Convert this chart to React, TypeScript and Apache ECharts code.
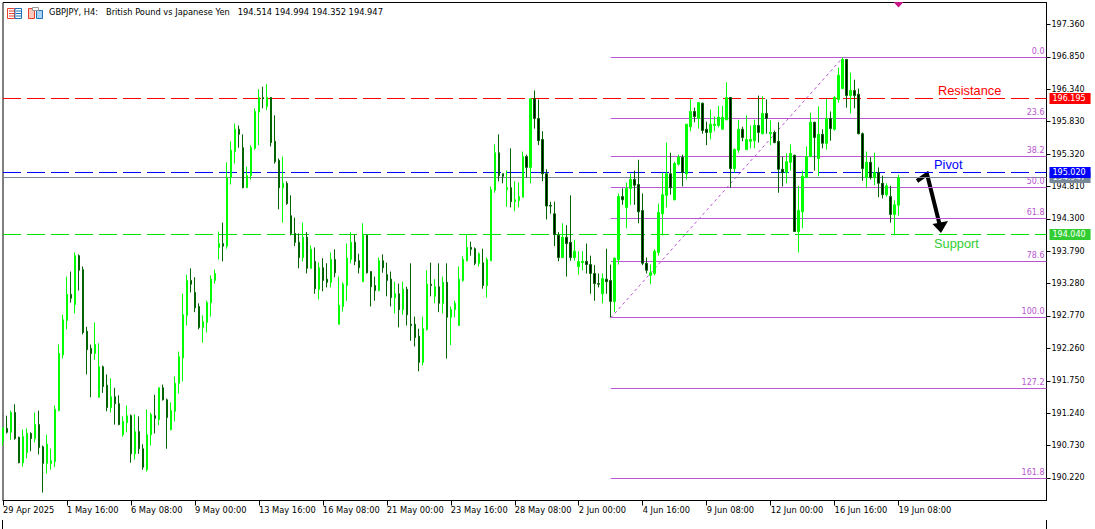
import React, { useEffect, useRef } from "react";
import * as echarts from "echarts";

const chartTitle = "GBPJPY, H4:   British Pound vs Japanese Yen   194.514 194.994 194.352 194.947";

const timeLabels = ["29 Apr 2025","1 May 16:00","6 May 08:00","9 May 00:00","13 May 16:00","16 May 08:00","21 May 00:00","23 May 16:00","28 May 08:00","2 Jun 00:00","4 Jun 16:00","9 Jun 08:00","12 Jun 00:00","16 Jun 16:00","19 Jun 08:00"];
const priceTicks = [197.36,196.85,196.34,195.83,195.32,194.81,194.3,193.79,193.28,192.77,192.26,191.75,191.24,190.73,190.22];

const opens = [190.81,191.00,190.94,191.25,190.86,190.46,190.62,190.92,190.84,191.06,
190.71,190.45,190.45,190.48,191.28,192.16,192.70,193.11,192.95,193.72,
193.50,192.53,192.26,192.18,191.49,191.97,191.68,191.33,191.50,191.39,
190.90,191.09,191.20,190.60,190.95,190.68,190.35,190.90,191.20,191.14,
191.64,191.45,190.98,191.27,191.71,192.11,192.78,193.33,193.14,192.92,
192.59,192.67,192.98,193.33,193.85,193.91,193.87,194.95,195.36,195.71,
195.42,194.79,194.98,195.41,195.98,196.21,196.07,196.21,195.52,195.22,
194.79,194.86,194.35,194.07,193.93,193.69,194.01,193.52,193.63,193.19,
193.53,193.35,193.30,193.66,192.64,192.92,193.25,193.66,193.93,193.64,
193.31,194.04,193.47,193.25,193.17,193.64,193.42,193.35,193.06,193.12,
192.87,193.19,192.64,192.64,192.45,192.04,192.56,193.27,193.08,193.23,
192.97,193.30,192.75,192.87,192.62,193.33,193.64,193.85,193.83,193.60,
193.61,193.25,193.64,194.75,195.34,195.01,194.76,194.79,194.57,194.59,
194.64,195.28,195.11,196.19,195.88,195.55,195.01,194.51,194.38,194.04,
193.69,194.01,193.93,193.69,193.55,193.61,193.63,193.58,193.44,193.28,
193.12,193.35,193.33,193.00,193.66,194.65,194.48,194.78,194.92,194.84,
194.43,193.60,193.41,193.44,193.77,194.38,194.67,195.01,194.60,195.16,
195.27,195.01,195.75,195.99,195.88,196.12,195.71,195.66,195.77,195.77,
195.71,195.86,196.21,195.09,195.38,195.71,195.39,195.52,195.53,195.77,
195.64,195.96,195.64,195.66,195.52,195.08,195.03,195.19,195.30,194.10,
194.41,194.95,195.28,195.82,195.25,195.63,195.49,195.88,195.71,196.18,
196.35,196.81,196.24,196.32,196.26,195.64,194.95,195.19,194.95,195.03,
194.86,194.68,194.65,194.37,194.514];

const highs = [191.01,191.20,191.28,191.38,190.87,190.98,191.00,190.94,191.25,191.28,
190.73,190.90,190.68,191.36,192.32,192.79,193.39,193.47,193.77,193.74,
193.55,192.60,192.32,192.67,192.34,191.99,191.85,191.79,191.64,191.52,
191.19,191.36,191.22,191.22,191.19,190.75,191.30,191.25,191.53,191.64,
191.69,191.47,191.41,191.82,192.21,193.12,193.42,193.52,193.38,192.97,
192.78,193.01,193.41,193.50,194.10,194.24,195.19,195.52,195.80,195.77,
195.63,195.12,195.46,196.04,196.34,196.38,196.42,196.21,195.93,195.25,
195.28,194.89,194.67,194.32,194.07,194.24,194.09,193.88,193.85,193.61,
193.68,193.60,193.77,193.82,193.39,193.30,193.91,194.09,194.05,193.75,
194.23,194.05,193.47,193.39,193.69,193.74,193.61,193.47,193.31,193.28,
193.31,193.23,193.60,192.76,192.57,192.76,193.49,193.61,193.35,193.60,
193.39,193.60,192.92,193.01,193.55,193.71,194.05,193.94,193.85,193.77,
193.83,193.69,194.81,195.47,195.63,195.01,195.06,195.41,194.89,194.87,
195.36,195.31,196.19,196.32,196.18,195.68,195.08,194.57,194.57,194.09,
194.23,194.20,194.67,193.97,193.79,193.79,193.91,193.72,193.57,193.44,
193.44,193.83,193.58,193.69,194.70,194.78,194.87,195.01,195.06,195.23,
194.70,193.69,193.58,193.82,194.54,195.03,195.50,195.34,195.20,195.31,
195.31,195.79,196.18,196.05,196.13,196.13,195.83,196.02,195.91,196.08,
196.08,196.45,196.21,195.41,195.86,195.75,195.93,195.77,195.86,196.24,
196.23,196.18,195.85,195.69,195.82,195.28,195.33,195.47,195.31,194.82,
195.06,195.44,195.97,195.83,196.07,195.71,196.19,195.99,196.23,196.68,
196.84,196.81,196.60,196.49,196.35,195.66,195.36,195.27,195.34,195.11,
194.98,194.86,194.82,194.59,194.994];

const lows = [190.73,190.92,190.82,190.82,190.45,190.40,190.53,190.64,190.78,190.59,
189.99,190.29,190.35,190.39,191.27,192.10,192.56,192.98,192.81,193.17,
192.48,191.85,191.49,192.08,191.49,191.56,191.27,191.25,191.06,191.05,
190.87,190.94,190.46,190.51,190.60,190.35,190.32,190.73,190.92,191.05,
191.44,190.68,190.97,191.11,191.55,191.74,192.62,193.14,192.83,192.56,
192.35,192.51,192.76,193.28,193.66,193.63,193.83,194.84,195.17,195.42,
194.78,194.79,194.92,195.39,195.46,196.04,196.01,195.44,195.17,194.45,
194.24,194.52,194.04,193.87,193.52,193.63,193.44,193.52,193.12,193.03,
193.16,193.22,193.22,193.38,192.64,192.84,193.01,193.60,193.57,193.44,
193.31,193.44,192.92,193.01,193.16,193.45,193.08,192.92,192.81,192.59,
192.79,192.62,192.38,192.29,191.90,191.99,192.54,193.08,192.97,192.83,
192.81,192.10,192.31,192.75,192.62,193.31,193.63,193.72,193.57,193.55,
193.20,193.06,193.64,194.71,194.89,194.86,194.49,194.48,194.42,194.48,
194.64,194.95,194.86,195.72,195.46,194.89,194.29,194.38,193.87,193.63,
193.69,193.39,193.64,193.64,193.42,193.49,193.44,193.12,193.01,193.22,
192.97,193.12,192.75,192.83,193.58,194.52,194.15,194.52,194.52,194.23,
193.57,193.44,193.27,193.41,193.72,194.04,194.48,194.68,194.59,195.14,
194.81,194.92,195.68,195.82,195.72,195.64,195.46,195.55,195.68,195.74,
195.71,195.85,194.79,195.03,195.34,195.52,195.39,195.41,195.41,195.50,
195.63,195.64,195.46,195.49,194.71,194.81,194.86,195.06,194.10,193.77,
194.15,194.95,195.27,195.06,194.97,195.41,195.39,195.53,195.69,196.13,
196.35,196.05,195.96,196.04,195.63,194.90,194.79,194.92,194.83,194.64,
194.62,194.65,194.24,194.04,194.352];

const closes = [191.01,190.94,191.25,190.84,190.46,190.87,190.92,190.84,191.06,190.70,
190.45,190.75,190.49,191.30,192.18,192.71,193.11,193.05,193.72,193.49,
192.51,192.24,192.18,192.32,191.97,191.66,191.33,191.50,191.39,191.06,
191.11,191.20,190.60,190.95,190.68,190.39,190.90,191.22,191.16,191.64,
191.45,191.17,191.28,191.71,192.13,192.79,193.33,193.27,192.90,192.59,
192.68,192.98,193.35,193.44,193.91,193.87,194.95,195.38,195.71,195.63,
194.79,194.98,195.42,195.99,196.21,196.19,196.21,195.50,195.20,194.79,
194.86,194.54,194.07,193.93,193.69,194.01,193.52,193.82,193.20,193.53,
193.33,193.30,193.66,193.45,192.94,193.27,193.68,193.93,193.63,193.53,
194.04,193.45,193.23,193.17,193.64,193.53,193.33,193.06,193.12,192.87,
193.19,192.79,192.62,192.43,192.04,192.57,193.27,193.25,193.23,192.97,
193.30,192.75,192.87,192.97,193.35,193.66,193.85,193.82,193.60,193.75,
193.25,193.66,194.76,195.34,194.98,194.97,194.79,194.57,194.60,194.65,
195.28,195.11,196.19,195.88,195.53,195.01,194.50,194.50,194.05,193.69,
194.01,193.91,193.69,193.79,193.63,193.63,193.58,193.44,193.28,193.27,
193.36,193.31,193.00,193.68,194.65,194.60,194.78,194.92,194.83,194.41,
193.60,193.49,193.45,193.79,194.40,194.68,195.01,194.79,195.17,195.27,
195.03,195.79,195.99,195.91,196.13,195.69,195.66,195.79,195.79,195.90,
195.90,196.21,195.09,195.39,195.71,195.58,195.55,195.55,195.77,195.66,
195.96,195.88,195.66,195.50,195.08,195.03,195.20,195.33,194.10,194.43,
194.97,195.28,195.82,195.58,195.63,195.49,195.88,195.72,196.21,196.56,
196.81,196.24,196.32,196.24,195.64,195.09,195.19,194.95,195.03,194.86,
194.68,194.82,194.37,194.52,194.947];

const fibLevels = ["0.0","23.6","38.2","50.0","61.8","78.6","100.0","127.2","161.8"];
const fibPrices = [196.836,195.871,195.274,194.79,194.3,193.622,192.74,191.62,190.21];

const resistancePrice = 196.195;
const pivotPrice = 195.02;
const supportPrice = 194.04;
const lastPrice = 194.947;

const FONT = "'DejaVu Sans', sans-serif";
const PURPLE = "#BA55D3";
const SLOTS = 262;
const FIB_START = 152;
const FIB_PEAK = 210;
const Y_MIN = 189.865;
const Y_MAX = 197.706;
const GRID_TOP = 2.5;
const GRID_H = 498;

// Lines sit on a whole pixel row, as the terminal draws them.
const snap = (p: number) => {
  const scale = GRID_H / (Y_MAX - Y_MIN);
  const row = Math.floor(2 + (Y_MAX - p) * scale + 0.035);
  return Y_MAX - (row + 0.5 - GRID_TOP) / scale;
};

const levelLine = (value: number, color: string, bg: string, dashed: boolean) => ({
  yAxis: snap(value),
  lineStyle: { color, width: 1, type: dashed ? [18, 6] : "solid", opacity: 1 },
  label: {
    show: true,
    position: "end",
    distance: 3,
    formatter: value.toFixed(3),
    color: "#fff",
    backgroundColor: bg,
    padding: [2, 5, 1, 3],
    fontFamily: FONT,
    fontSize: 8,
  },
});

export default function App() {
  const ref = useRef<HTMLDivElement>(null);
  useEffect(() => {
    document.body.style.margin = "0";
    const chart = echarts.init(ref.current!, undefined, { renderer: "svg" });
    const candles = opens.map((o, i) => [o, closes[i], lows[i], highs[i]]);
    const fibLines = fibPrices.map((p, i) => [
      {
        coord: [FIB_START, snap(p)],
        lineStyle: { color: PURPLE, width: 1, type: "solid" },
        label: {
          show: true,
          position: "insideEndTop",
          distance: 2,
          formatter: fibLevels[i],
          color: PURPLE,
          fontFamily: FONT,
          fontSize: 8,
        },
      },
      { coord: [SLOTS - 1, snap(p)] },
    ]);
    const trend = [
      { coord: [FIB_START, fibPrices[6]], lineStyle: { color: PURPLE, width: 1, type: [3, 3] }, label: { show: false } },
      { coord: [FIB_PEAK, fibPrices[0]] },
    ];
    const textStyle = (text: string, x: number, y: number, fill: string) => ({
      type: "text",
      x,
      y,
      style: { text, fill, font: `12.8px 'Liberation Sans', Arial, sans-serif`, textVerticalAlign: "middle" },
      silent: true,
    });
    const rect = (x: number, y: number, w: number, h: number, stroke: string, fill: string) => ({
      type: "rect",
      shape: { x, y, width: w, height: h },
      style: { stroke, fill, lineWidth: 1 },
      silent: true,
    });
    const seg = (x1: number, y1: number, x2: number, y2: number, stroke: string, lineWidth = 1) => ({
      type: "line",
      shape: { x1, y1, x2, y2 },
      style: { stroke, lineWidth },
      silent: true,
    });
    chart.setOption({
      animation: false,
      backgroundColor: "#fff",
      title: {
        text: chartTitle,
        left: 49,
        top: 8,
        padding: 0,
        textStyle: { color: "#000", fontFamily: FONT, fontSize: 8.3, fontWeight: "normal" },
      },
      grid: { left: 2.5, top: GRID_TOP, width: 1044, height: GRID_H, show: true, borderColor: "#000", borderWidth: 1, backgroundColor: "transparent" },
      xAxis: {
        type: "category",
        boundaryGap: false,
        data: Array.from({ length: SLOTS }, (_, i) => String(i)),
        axisLine: { show: true, lineStyle: { color: "#000", width: 1 } },
        axisTick: { show: true, length: 5, lineStyle: { color: "#000" }, interval: (i: number) => i % 16 === 0 && i <= 224 },
        axisLabel: {
          interval: (i: number) => i % 16 === 0 && i <= 224,
          formatter: (_: string, i: number) => timeLabels[i / 16] ?? "",
          align: "left",
          margin: 5,
          color: "#000",
          fontFamily: FONT,
          fontSize: 8.3,
        },
        splitLine: { show: false },
      },
      yAxis: {
        type: "value",
        position: "right",
        min: Y_MIN,
        max: Y_MAX,
        axisLine: { show: true, lineStyle: { color: "#000", width: 1 } },
        axisTick: { show: true, length: 4, lineStyle: { color: "#000" }, customValues: priceTicks },
        axisLabel: {
          customValues: priceTicks,
          formatter: (v: number) => v.toFixed(3),
          margin: 5,
          color: "#000",
          fontFamily: FONT,
          fontSize: 8,
        },
        splitLine: { show: false },
      },
      series: [
        {
          type: "candlestick",
          z: 2,
          barWidth: 2,
          data: candles,
          itemStyle: { color: "#00FF00", color0: "#000000", borderColor: "#00FF00", borderColor0: "#006400", borderWidth: 1 },
          markLine: {
            z: 1,
            precision: 6,
            silent: true,
            symbol: "none",
            animation: false,
            data: [
              levelLine(lastPrice, "#778899", "#778899", false),
              levelLine(resistancePrice, "#FF0000", "#FF0000", true),
              levelLine(pivotPrice, "#0000FF", "#0000FF", true),
              levelLine(supportPrice, "#00E000", "#32CD32", true),
              ...fibLines,
              trend,
            ],
          },
        },
      ],
      graphic: [
        textStyle("Resistance", 938, 90.5, "#FF0000"),
        textStyle("Pivot", 934, 164, "#0000FF"),
        textStyle("Support", 934, 243.5, "#32CD32"),
        {
          type: "polyline",
          shape: { points: [[917, 181], [927, 174], [940, 226]] },
          style: { stroke: "#000", lineWidth: 4, fill: "none" },
          silent: true,
        },
        { type: "polygon", shape: { points: [[932.5, 224], [948, 221], [941, 233]] }, style: { fill: "#000" }, silent: true },
        { type: "polygon", shape: { points: [[893.5, 2], [903.5, 2], [898.5, 7.5]] }, style: { fill: "#C71585" }, silent: true },
        seg(2.5, 520, 2.5, 529, "#000"),
        seg(1046.5, 520, 1046.5, 529, "#000"),
        rect(7.5, 8.5, 7, 10, "#E8402A", "#fff"),
        seg(9, 11, 14, 11, "#E8402A"),
        seg(9, 13.5, 14, 13.5, "#E8402A"),
        seg(9, 16, 14, 16, "#E8402A"),
        rect(15, 8.5, 6.5, 10, "#1C6FB8", "#fff"),
        seg(16, 11, 21, 11, "#1C6FB8"),
        seg(16, 13.5, 21, 13.5, "#1C6FB8"),
        seg(16, 16, 21, 16, "#1C6FB8"),
        rect(28.5, 8.5, 6, 10, "#E8402A", "#F9C9BE"),
        rect(36.5, 10.5, 6, 8, "#1C6FB8", "#A9D3F2"),
        rect(32.5, 7.5, 6, 3, "#999", "#fff"),
      ],
    });
    return () => chart.dispose();
  }, []);
  return <div ref={ref} style={{ position: "absolute", left: 0, top: 0, width: 1095, height: 529 }} />;
}
